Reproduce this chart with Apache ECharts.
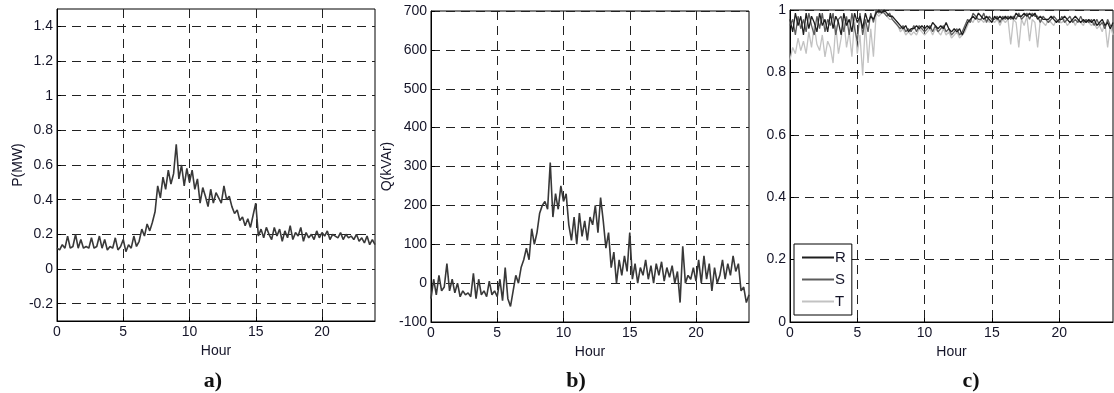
<!DOCTYPE html>
<html>
<head>
<meta charset="utf-8">
<script src="https://cdn.jsdelivr.net/npm/echarts@6/dist/echarts.min.js"></script>
<style>
  html, body { margin: 0; padding: 0; background: #fff; }
  #chart { width: 1114px; height: 393px; }
</style>
</head>
<body>
<div id="chart"></div>
<script>
// samples every 0.2 hour, 0..24
const stepHours = 0.2
const hourTicks = [0, 5, 10, 15, 20]
const pTicks = [-0.2, 0, 0.2, 0.4, 0.6, 0.8, 1, 1.2, 1.4]
const qTicks = [-100, 0, 100, 200, 300, 400, 500, 600, 700]
const pfTicks = [0, 0.2, 0.4, 0.6, 0.8, 1]

// a) active power, MW
const pValues = [
  0.12, 0.11, 0.14, 0.12, 0.19, 0.12,
  0.13, 0.20, 0.12, 0.17, 0.12,
  0.13, 0.12, 0.18, 0.12, 0.13,
  0.19, 0.12, 0.17, 0.11, 0.13,
  0.12, 0.18, 0.11, 0.13, 0.17,
  0.10, 0.14, 0.12, 0.19, 0.13,
  0.16, 0.23, 0.19, 0.26, 0.22,
  0.27, 0.33, 0.48, 0.41, 0.53,
  0.46, 0.57, 0.49, 0.55, 0.72,
  0.52, 0.60, 0.48, 0.58, 0.50,
  0.57, 0.46, 0.52, 0.38, 0.47,
  0.42, 0.36, 0.46, 0.38, 0.44,
  0.41, 0.38, 0.48, 0.40, 0.42,
  0.36, 0.32, 0.34, 0.28, 0.30,
  0.25, 0.29, 0.24, 0.31, 0.38,
  0.19, 0.23, 0.18, 0.24, 0.20,
  0.17, 0.24, 0.19, 0.23, 0.16,
  0.22, 0.18, 0.25, 0.17, 0.21,
  0.19, 0.24, 0.16, 0.21, 0.18,
  0.20, 0.17, 0.22, 0.18, 0.21,
  0.19, 0.22, 0.17, 0.20, 0.19,
  0.18, 0.21, 0.17, 0.20, 0.18,
  0.19, 0.17, 0.20, 0.16, 0.18,
  0.15, 0.19, 0.14, 0.17, 0.14
]

// b) reactive power, kVAr
const qValues = [
  -40, 10, -30, 20, -20, -10,
  50, -20, 10, -25, 0,
  -35, -20, -30, -25, -35,
  25, -40, 10, -30, -20,
  -35, 5, -30, -20, -35,
  10, -45, 40, -40, -60,
  -20, 20, 0, 40, 60,
  90, 60, 140, 100, 130,
  180, 200, 210, 190, 310,
  170, 230, 190, 250, 210,
  230, 150, 110, 170, 100,
  180, 120, 160, 110, 170,
  150, 200, 130, 220, 160,
  90, 130, 40, 80, 0,
  60, 20, 70, 30, 130,
  10, 50, 0, 40, 20,
  60, 10, 45, 0, 50,
  20, 55, 5, 40, 15,
  45, 0, 30, -50, 95,
  0, 20, 10, 40, 5,
  60, 0, 70, 10, 50,
  -20, 40, 0, 20, 60,
  10, 50, 20, 70, 30,
  50, -20, -10, -50, -30
]

// c) power factor per phase
const rValues = [
  0.97, 0.93, 0.99, 0.95, 0.98, 0.92,
  0.99, 0.94, 0.98, 0.96, 0.93,
  0.99, 0.95, 0.97, 0.93, 0.99,
  0.94, 0.98, 0.96, 0.92, 0.99,
  0.95, 0.97, 0.93, 0.99, 0.96,
  0.98, 0.94, 0.99, 0.96, 0.98,
  0.97, 0.99, 1.00, 0.99, 1.00,
  0.99, 0.98, 0.98, 0.97, 0.96,
  0.95, 0.94, 0.95, 0.93, 0.94,
  0.94, 0.95, 0.94, 0.95, 0.94,
  0.95, 0.94, 0.96, 0.95, 0.94,
  0.95, 0.94, 0.96, 0.94, 0.93,
  0.94, 0.93, 0.94, 0.92, 0.94,
  0.96, 0.97, 0.98, 0.97, 0.99,
  0.98, 0.97, 0.98, 0.97, 0.96,
  0.98, 0.97, 0.98, 0.97, 0.98,
  0.97, 0.98, 0.97, 0.99, 0.98,
  0.98, 0.99, 0.98, 0.99, 0.98,
  0.99, 0.97, 0.98, 0.97, 0.97,
  0.97, 0.98, 0.97, 0.96, 0.97,
  0.97, 0.98, 0.97, 0.96, 0.97,
  0.98, 0.97, 0.96, 0.97, 0.96,
  0.97, 0.96, 0.97, 0.95, 0.96,
  0.97, 0.95, 0.96, 0.94, 0.96
]
const sValues = [
  0.95, 0.97, 0.92, 0.98, 0.94, 0.97,
  0.93, 0.99, 0.95, 0.92, 0.98,
  0.94, 0.99, 0.93, 0.97, 0.95,
  0.99, 0.92, 0.97, 0.98, 0.93,
  0.98, 0.92, 0.99, 0.94, 0.90,
  0.99, 0.92, 0.97, 0.93, 0.99,
  0.96, 1.00, 0.99, 1.00, 0.99,
  0.98, 0.99, 0.97, 0.96, 0.95,
  0.94, 0.95, 0.93, 0.94, 0.93,
  0.95, 0.93, 0.95, 0.94, 0.93,
  0.94, 0.95, 0.93, 0.95, 0.93,
  0.94, 0.95, 0.93, 0.94, 0.92,
  0.93, 0.94, 0.92, 0.93, 0.95,
  0.97, 0.96, 0.99, 0.98, 0.97,
  0.97, 0.99, 0.96, 0.98, 0.97,
  0.97, 0.98, 0.96, 0.98, 0.97,
  0.98, 0.97, 0.98, 0.97, 0.99,
  0.97, 0.98, 0.99, 0.97, 0.99,
  0.98, 0.98, 0.96, 0.98, 0.97,
  0.96, 0.97, 0.98, 0.97, 0.96,
  0.98, 0.96, 0.97, 0.98, 0.96,
  0.97, 0.96, 0.98, 0.96, 0.97,
  0.96, 0.97, 0.95, 0.97, 0.95,
  0.96, 0.94, 0.97, 0.95, 0.95
]
const tValues = [
  0.84, 0.88, 0.86, 0.91, 0.87, 0.90,
  0.86, 0.93, 0.88, 0.95, 0.89,
  0.87, 0.92, 0.85, 0.90, 0.88,
  0.83, 0.95, 0.86, 0.91, 0.97,
  0.88, 0.93, 0.85, 0.97, 0.86,
  0.92, 0.79, 0.96, 0.83, 0.94,
  0.85, 0.99, 0.98, 0.99, 0.99,
  0.98, 0.97, 0.97, 0.96, 0.95,
  0.93, 0.94, 0.92, 0.93, 0.92,
  0.93, 0.92, 0.94, 0.93, 0.92,
  0.93, 0.94, 0.92, 0.94, 0.93,
  0.92, 0.94, 0.92, 0.93, 0.91,
  0.92, 0.93, 0.91, 0.92, 0.93,
  0.95, 0.97, 0.96, 0.98, 0.96,
  0.97, 0.96, 0.98, 0.96, 0.97,
  0.96, 0.97, 0.95, 0.97, 0.96,
  0.97, 0.89, 0.97, 0.96, 0.88,
  0.97, 0.95, 0.98, 0.90, 0.97,
  0.96, 0.88, 0.97, 0.96, 0.95,
  0.97, 0.96, 0.95, 0.97, 0.96,
  0.96, 0.97, 0.95, 0.96, 0.97,
  0.95, 0.97, 0.96, 0.95, 0.97,
  0.96, 0.95, 0.96, 0.94, 0.95,
  0.93, 0.96, 0.88, 0.95, 0.92
]

const toPairs = arr => arr.map((v, i) => [+(i * stepHours).toFixed(1), v])

const labelFont = { fontFamily: 'Liberation Sans, Arial, sans-serif', fontSize: 14, color: '#141428' }
const dash = { color: '#222', width: 1, type: [9, 6] }

function xAxisFor (idx) {
  return {
    gridIndex: idx,
    type: 'value',
    min: 0,
    max: 24,
    name: 'Hour',
    nameLocation: 'middle',
    nameGap: 23,
    nameTextStyle: labelFont,
    axisLine: { onZero: false, lineStyle: { color: '#000', width: 1 } },
    axisTick: { inside: true, length: 4, lineStyle: { color: '#000' }, customValues: hourTicks },
    axisLabel: Object.assign({ margin: 4, customValues: hourTicks }, labelFont),
    splitLine: { show: true, lineStyle: dash }
  }
}

function yAxisFor (idx, min, max, ticks, name, gap) {
  return {
    gridIndex: idx,
    type: 'value',
    min: min,
    max: max,
    name: name,
    nameLocation: 'middle',
    nameGap: gap,
    nameTextStyle: labelFont,
    axisLine: { onZero: false, lineStyle: { color: '#000', width: 1 } },
    axisTick: { inside: true, length: 4, lineStyle: { color: '#000' }, customValues: ticks },
    axisLabel: Object.assign({ margin: 4, customValues: ticks }, labelFont),
    splitLine: { show: true, lineStyle: dash }
  }
}

function lineSeries (name, idx, values, color, width) {
  return {
    name: name,
    type: 'line',
    xAxisIndex: idx,
    yAxisIndex: idx,
    symbol: 'none',
    animation: false,
    lineStyle: { color: color, width: width },
    itemStyle: { color: color },
    data: toPairs(values)
  }
}

function caption (text, x) {
  return {
    type: 'text',
    x: x,
    y: 381,
    style: {
      text: text,
      font: 'bold 22px "Liberation Serif", "DejaVu Serif", serif',
      fill: '#111',
      textAlign: 'center',
      textVerticalAlign: 'middle'
    }
  }
}

const gridStyle = { show: true, borderColor: '#000', borderWidth: 1, backgroundColor: '#fff' }

const option = {
  backgroundColor: '#fff',
  grid: [
    Object.assign({ left: 57, top: 9, width: 318, height: 312 }, gridStyle),
    Object.assign({ left: 431, top: 11, width: 318, height: 311 }, gridStyle),
    Object.assign({ left: 790, top: 10, width: 323, height: 312 }, gridStyle)
  ],
  xAxis: [xAxisFor(0), xAxisFor(1), xAxisFor(2)],
  yAxis: [
    yAxisFor(0, -0.3, 1.5, pTicks, 'P(MW)', 31),
    yAxisFor(1, -100, 700, qTicks, 'Q(kVAr)', 37),
    yAxisFor(2, 0, 1, pfTicks, '', 30)
  ],
  legend: {
    data: ['R', 'S', 'T'],
    orient: 'vertical',
    left: 794,
    top: 244,
    padding: [6, 6, 6, 8],
    itemGap: 7,
    itemWidth: 32,
    itemHeight: 2,
    icon: 'rect',
    borderColor: '#000',
    borderWidth: 1,
    backgroundColor: '#fff',
    textStyle: { fontFamily: 'Liberation Sans, Arial, sans-serif', fontSize: 15, color: '#141428', padding: [0, 0, 0, -4] }
  },
  graphic: [
    caption('a)', 213),
    caption('b)', 576),
    caption('c)', 971)
  ],
  series: [
    lineSeries('P', 0, pValues, '#383838', 1.6),
    lineSeries('Q', 1, qValues, '#383838', 1.6),
    lineSeries('T', 2, tValues, '#c2c2c2', 1.3),
    lineSeries('S', 2, sValues, '#5c5c5c', 1.3),
    lineSeries('R', 2, rValues, '#1e1e1e', 1.3)
  ]
}

const chart = echarts.init(document.getElementById('chart'))
chart.setOption(option)
</script>
</body>
</html>
